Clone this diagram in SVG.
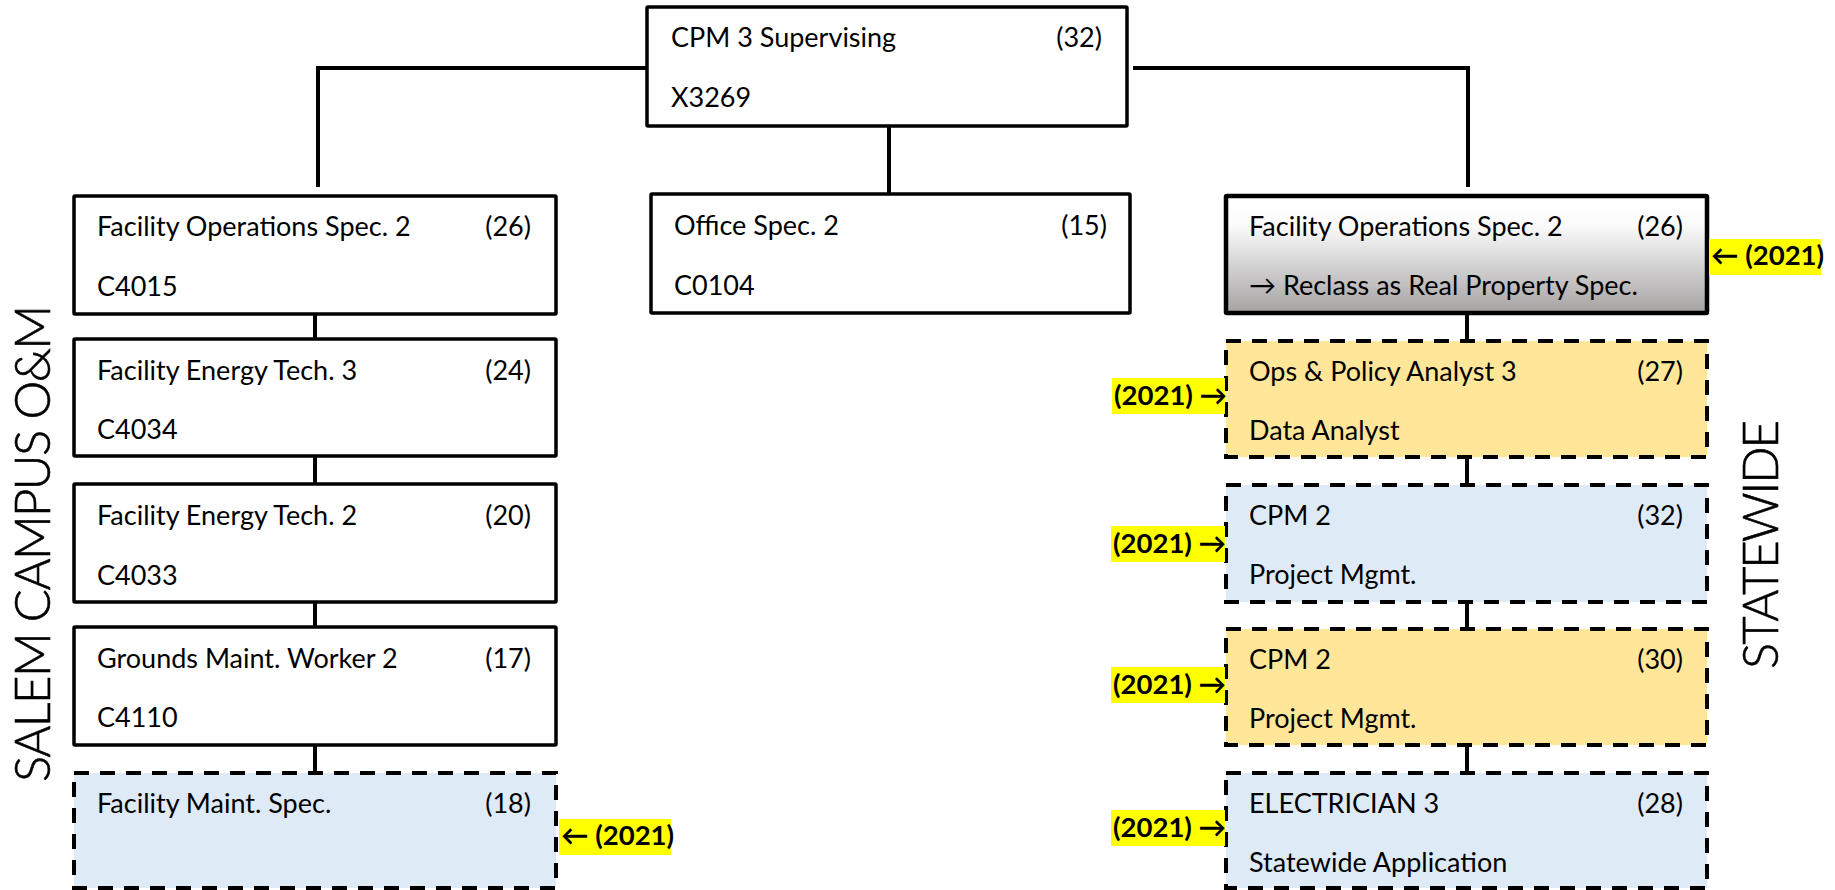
<svg xmlns="http://www.w3.org/2000/svg" width="1835" height="890" viewBox="0 0 1835 890">
  <defs>
    <linearGradient id="grayFade" x1="0" y1="0" x2="0" y2="1">
      <stop offset="0" stop-color="#ffffff"/>
      <stop offset="0.25" stop-color="#fbfbfb"/>
      <stop offset="1" stop-color="#a5a2a2"/>
    </linearGradient>
    <style>
      text { font-family: Lato, "Liberation Sans", sans-serif; fill: #000; }
      .lbl { font-size: 27px; }
      .num { font-size: 27px; text-anchor: end; }
      .tag { font-size: 27.5px; font-weight: bold; }
      .side { font-size: 49px; font-weight: 300; text-anchor: middle; stroke: #000; stroke-width: 0.6; }
      .box { fill: #ffffff; stroke: #000; stroke-width: 3.5; }
      .boxGray { fill: url(#grayFade); stroke: #000; stroke-width: 4.5; }
      .dash { stroke: #000; stroke-width: 4; stroke-dasharray: 15 11; }
      .blue { fill: #deeaf6; }
      .gold { fill: #ffe699; }
      .hl { fill: #ffff00; }
      .wire { fill: none; stroke: #000; stroke-width: 4; }
    </style>
  </defs>

  <rect width="1835" height="890" fill="#ffffff"/>

  <!-- connectors -->
  <g id="connectors">
    <path class="wire" d="M318,187 V68 H647"/>
    <path class="wire" d="M1133,68 H1468 V187"/>
    <path class="wire" d="M889,126 V194"/>
    <path class="wire" d="M315,314 V339 M315,456 V484 M315,602 V627 M315,745 V773"/>
    <path class="wire" d="M1467,313 V341 M1467,457 V485 M1467,602 V629 M1467,745 V773"/>
  </g>

  <!-- supervisor -->
  <g id="node-cpm3">
    <rect class="box" x="647" y="7" width="480" height="119" rx="1"/>
    <text class="lbl" x="671" y="47">CPM 3 Supervising</text>
    <text class="num" x="1102" y="47">(32)</text>
    <text class="lbl" x="671" y="107">X3269</text>
  </g>

  <g id="node-office">
    <rect class="box" x="651" y="194" width="479" height="119" rx="1"/>
    <text class="lbl" x="674" y="235">Office Spec. 2</text>
    <text class="num" x="1107" y="235">(15)</text>
    <text class="lbl" x="674" y="295">C0104</text>
  </g>

  <!-- Salem campus column -->
  <g id="node-fos2-left">
    <rect class="box" x="74" y="196" width="482" height="118" rx="1"/>
    <text class="lbl" x="97" y="236">Facility Operations Spec. 2</text>
    <text class="num" x="531" y="236">(26)</text>
    <text class="lbl" x="97" y="296">C4015</text>
  </g>

  <g id="node-fet3">
    <rect class="box" x="74" y="339" width="482" height="117" rx="1"/>
    <text class="lbl" x="97" y="380">Facility Energy Tech. 3</text>
    <text class="num" x="531" y="380">(24)</text>
    <text class="lbl" x="97" y="439">C4034</text>
  </g>

  <g id="node-fet2">
    <rect class="box" x="74" y="484" width="482" height="118" rx="1"/>
    <text class="lbl" x="97" y="525">Facility Energy Tech. 2</text>
    <text class="num" x="531" y="525">(20)</text>
    <text class="lbl" x="97" y="585">C4033</text>
  </g>

  <g id="node-gmw2">
    <rect class="box" x="74" y="627" width="482" height="118" rx="1"/>
    <text class="lbl" x="97" y="668">Grounds Maint. Worker 2</text>
    <text class="num" x="531" y="668">(17)</text>
    <text class="lbl" x="97" y="727">C4110</text>
  </g>

  <g id="node-fms">
    <rect class="blue dash" x="74" y="773" width="482" height="115"/>
    <text class="lbl" x="97" y="813">Facility Maint. Spec.</text>
    <text class="num" x="531" y="813">(18)</text>
    <rect class="hl" x="559" y="819" width="112" height="36"/>
    <text class="tag" x="561" y="845">← (2021)</text>
  </g>

  <!-- statewide column -->
  <g id="node-fos2-right">
    <rect class="boxGray" x="1226" y="196" width="481" height="117" rx="1"/>
    <text class="lbl" x="1249" y="236">Facility Operations Spec. 2</text>
    <text class="num" x="1683" y="236">(26)</text>
    <text class="lbl" x="1249" y="295">→ Reclass as Real Property Spec.</text>
    <rect class="hl" x="1709" y="239" width="112" height="36"/>
    <text class="tag" x="1711" y="265">← (2021)</text>
  </g>

  <g id="node-opa3">
    <rect class="gold dash" x="1226" y="341" width="481" height="116"/>
    <text class="lbl" x="1249" y="381">Ops &amp; Policy Analyst 3</text>
    <text class="num" x="1683" y="381">(27)</text>
    <text class="lbl" x="1249" y="440">Data Analyst</text>
    <rect class="hl" x="1112" y="378" width="113" height="36"/>
    <text class="tag" x="1114" y="405">(2021) →</text>
  </g>

  <g id="node-cpm2-a">
    <rect class="blue dash" x="1226" y="485" width="481" height="117"/>
    <text class="lbl" x="1249" y="525">CPM 2</text>
    <text class="num" x="1683" y="525">(32)</text>
    <text class="lbl" x="1249" y="584">Project Mgmt.</text>
    <rect class="hl" x="1111" y="526" width="114" height="36"/>
    <text class="tag" x="1113" y="553">(2021) →</text>
  </g>

  <g id="node-cpm2-b">
    <rect class="gold dash" x="1226" y="629" width="481" height="116"/>
    <text class="lbl" x="1249" y="669">CPM 2</text>
    <text class="num" x="1683" y="669">(30)</text>
    <text class="lbl" x="1249" y="728">Project Mgmt.</text>
    <rect class="hl" x="1111" y="667" width="114" height="36"/>
    <text class="tag" x="1113" y="694">(2021) →</text>
  </g>

  <g id="node-elec3">
    <rect class="blue dash" x="1226" y="773" width="481" height="115"/>
    <text class="lbl" x="1249" y="813">ELECTRICIAN 3</text>
    <text class="num" x="1683" y="813">(28)</text>
    <text class="lbl" x="1249" y="872">Statewide Application</text>
    <rect class="hl" x="1111" y="810" width="114" height="36"/>
    <text class="tag" x="1113" y="837">(2021) →</text>
  </g>

  <!-- section titles -->
  <text class="side" transform="translate(50,543.5) rotate(-90)" textLength="477">SALEM CAMPUS O&amp;M</text>
  <text class="side" transform="translate(1778,544.5) rotate(-90)" textLength="249">STATEWIDE</text>
</svg>
